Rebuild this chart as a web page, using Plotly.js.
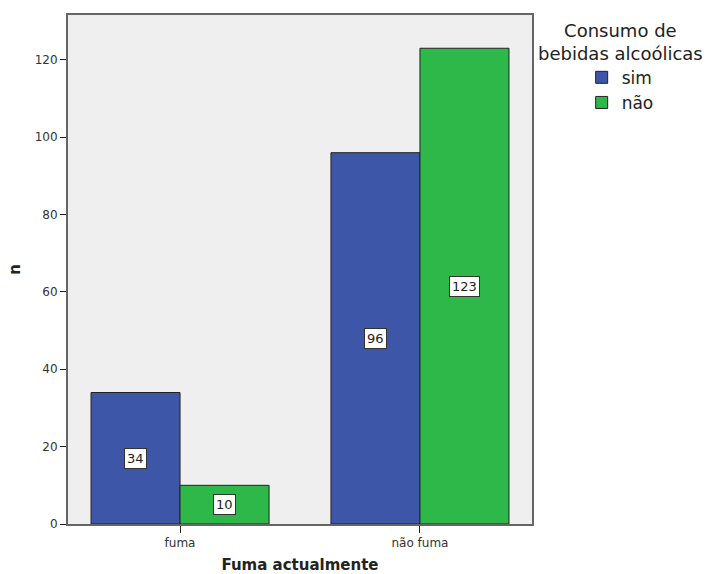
<!DOCTYPE html>
<html>
<head>
<meta charset="utf-8">
<script src="https://cdn.plot.ly/plotly-3.0.1.min.js"></script>
<style>html,body{margin:0;padding:0;background:#fff;}#chart{width:706px;height:574px;}</style>
</head>
<body>
<div id="chart"></div>
<script>
const categories = ["fuma", "não fuma"];
const seriesNames = ["sim", "não"];
const simValues = [34, 96];
const naoValues = [10, 123];
const yTicks = [0, 20, 40, 60, 80, 100, 120];
const legendTitle = "Consumo de<br>bebidas alcoólicas";

const colors = ["#3d56a8", "#2eb84a"];
const font = "DejaVu Sans, Verdana, sans-serif";

const traces = [simValues, naoValues].map((vals, i) => ({
  type: "bar",
  name: seriesNames[i],
  x: categories,
  y: vals,
  marker: {color: colors[i], line: {color: "#222", width: 1}},
  hoverinfo: "none"
}));

const annotations = [];
[simValues, naoValues].forEach((vals, i) => {
  vals.forEach((v, j) => {
    annotations.push({
      x: categories[j], y: v / 2, xref: "x", yref: "y",
      xshift: i === 0 ? -44.5 : 44.5,
      text: String(v), showarrow: false,
      font: {family: font, size: 13, color: "#222"},
      bgcolor: "#ffffff", bordercolor: "#333", borderwidth: 1, borderpad: 2
    });
  });
});
annotations.push({
  x: 1.19, xref: "paper", xanchor: "center",
  y: 0.995, yref: "paper", yanchor: "top",
  text: legendTitle, showarrow: false, align: "center",
  font: {family: font, size: 18, color: "#222"}
});

const layout = {
  width: 706, height: 574,
  margin: {l: 68, r: 174, t: 15, b: 50},
  paper_bgcolor: "#ffffff",
  plot_bgcolor: "#efefef",
  barmode: "group",
  bargap: 0.258,
  bargroupgap: 0,
  font: {family: font, color: "#333"},
  xaxis: {
    type: "category",
    range: [-0.467, 1.467],
    showgrid: false, zeroline: false,
    showline: true, mirror: true, linecolor: "#666", linewidth: 2,
    ticks: "outside", ticklen: 7, tickcolor: "#222", tickwidth: 1,
    tickfont: {family: font, size: 12, color: "#333"},
    title: {text: "Fuma actualmente", font: {family: font, size: 15, color: "#222", weight: "bold"}, standoff: 12}
  },
  yaxis: {
    range: [0, 131.6],
    tickvals: yTicks,
    showgrid: false, zeroline: false,
    showline: true, mirror: true, linecolor: "#666", linewidth: 2,
    ticks: "outside", ticklen: 6, tickcolor: "#222", tickwidth: 1,
    tickfont: {family: font, size: 12, color: "#333"},
    title: {text: "n", font: {family: font, size: 15, color: "#222", weight: "bold"}, standoff: 10}
  },
  showlegend: true,
  legend: {
    x: 1.19, xanchor: "center", y: 0.912, yanchor: "top",
    font: {family: font, size: 17, color: "#222"},
    bgcolor: "rgba(0,0,0,0)",
    itemwidth: 30, tracegroupgap: 0
  },
  annotations: annotations
};

Plotly.newPlot("chart", traces, layout, {displayModeBar: false, staticPlot: true});
</script>
</body>
</html>
